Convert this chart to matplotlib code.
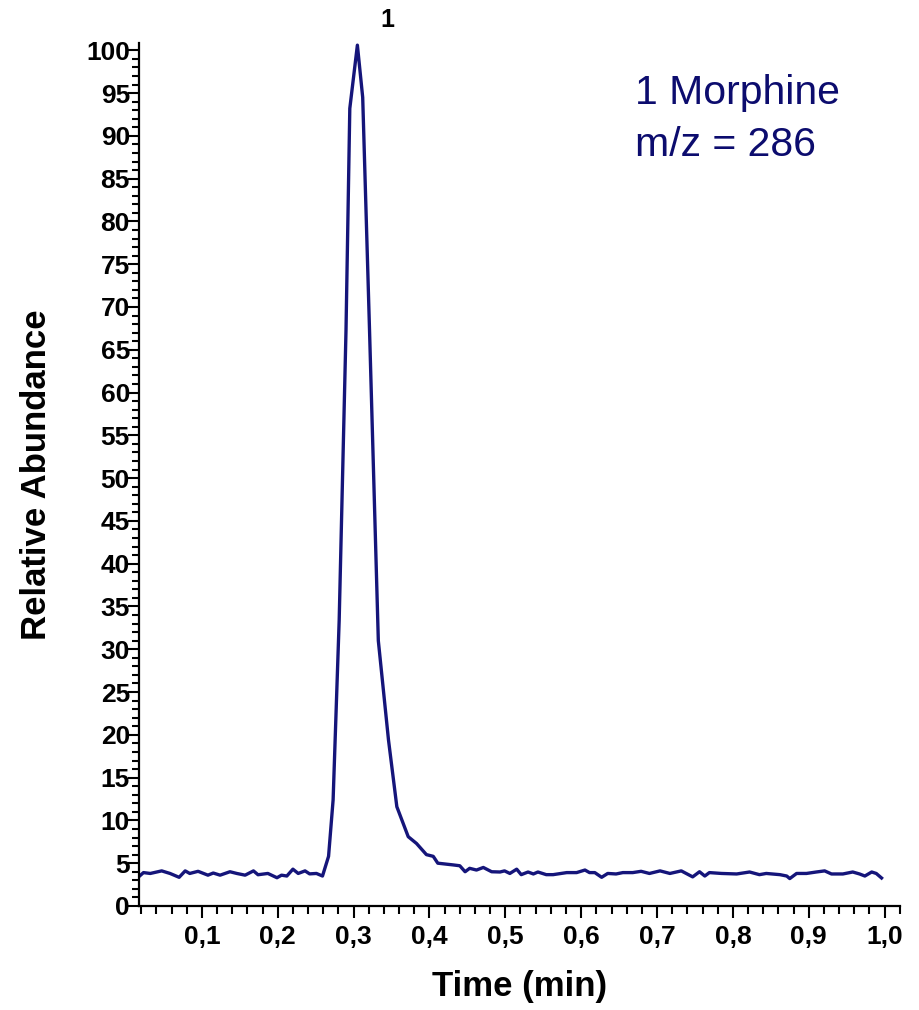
import numpy as np
import matplotlib
matplotlib.use('Agg')
import matplotlib.pyplot as plt
from matplotlib.ticker import MultipleLocator, FuncFormatter

plt.rcParams['font.family'] = ['Liberation Sans', 'DejaVu Sans']

# chromatogram
time = [0.016, 0.023, 0.032, 0.047, 0.058, 0.070, 0.078, 0.084, 0.095, 0.108,
        0.115, 0.124, 0.137, 0.146, 0.157, 0.168, 0.174, 0.187, 0.199, 0.205,
        0.212, 0.220, 0.227, 0.236, 0.242, 0.251, 0.259,
        0.267, 0.273, 0.281, 0.290, 0.295, 0.305, 0.312, 0.321, 0.3326,
        0.346, 0.357, 0.372, 0.383,
        0.387, 0.396, 0.405, 0.411, 0.431, 0.440, 0.447, 0.453, 0.462, 0.471,
        0.482, 0.493, 0.499, 0.506, 0.515, 0.521, 0.530, 0.537, 0.543, 0.554,
        0.563, 0.581, 0.594, 0.605, 0.611, 0.618, 0.627, 0.635, 0.646, 0.655,
        0.668, 0.679, 0.690,
        0.704, 0.717, 0.732, 0.747, 0.756, 0.763, 0.769, 0.785, 0.805, 0.822,
        0.835, 0.844, 0.862, 0.871, 0.875, 0.884, 0.897, 0.910, 0.921, 0.930,
        0.945, 0.958, 0.967, 0.974, 0.983, 0.989, 0.996]
abundance = [3.35, 3.9, 3.8, 4.1, 3.8, 3.35, 4.1, 3.8, 4.05, 3.6,
             3.85, 3.6, 4.0, 3.8, 3.6, 4.1, 3.65, 3.8, 3.3, 3.6,
             3.5, 4.3, 3.8, 4.1, 3.75, 3.8, 3.5,
             5.8, 12.4, 33.4, 67.3, 93.2, 100.6, 94.5, 67.3, 31.0,
             19.4, 11.6, 8.1, 7.3,
             6.9, 6.0, 5.8, 5.0, 4.8, 4.7, 4.0, 4.4, 4.2, 4.5,
             4.0, 3.97, 4.1, 3.8, 4.3, 3.66, 3.97, 3.74, 3.97, 3.66,
             3.66, 3.9, 3.9, 4.2, 3.9, 3.9, 3.35, 3.8, 3.74, 3.9,
             3.9, 4.05, 3.8,
             4.1, 3.8, 4.1, 3.4, 4.0, 3.5, 3.9, 3.8, 3.74, 3.97,
             3.66, 3.8, 3.66, 3.5, 3.2, 3.8, 3.8, 3.97, 4.1, 3.74,
             3.74, 3.97, 3.74, 3.5, 3.97, 3.8, 3.27]

navy = '#15157a'

fig = plt.figure(figsize=(9.2, 10.1), dpi=100)
ax = fig.add_axes([0.151, 0.103, 0.827, 0.854])
ax.plot(time, abundance, color=navy, lw=2.4)

ax.set_xlim(0.017, 1.02)
ax.set_ylim(0, 100.8)
for s in ['top', 'right']:
    ax.spines[s].set_visible(False)
for s in ['left', 'bottom']:
    ax.spines[s].set_linewidth(1.6)

ax.xaxis.set_major_locator(MultipleLocator(0.1))
ax.xaxis.set_minor_locator(MultipleLocator(0.02))
ax.yaxis.set_major_locator(MultipleLocator(5))
ax.yaxis.set_minor_locator(MultipleLocator(1))
ax.xaxis.set_major_formatter(FuncFormatter(lambda v, p: ('%.1f' % v).replace('.', ',')))
ax.yaxis.set_major_formatter(FuncFormatter(lambda v, p: '%d' % round(v)))

ax.tick_params(axis='x', which='major', length=8.5, width=1.5, pad=5, labelsize=19)
ax.tick_params(axis='x', which='minor', length=6, width=1.5)
ax.tick_params(axis='y', which='major', length=8, width=1.5, pad=-1.5, labelsize=19)
ax.tick_params(axis='y', which='minor', length=5, width=1.5)
for lab in ax.get_xticklabels() + ax.get_yticklabels():
    lab.set_fontweight('bold')

ax.set_xlabel('Time (min)', fontsize=25, fontweight='bold', labelpad=15)
ax.set_ylabel('Relative Abundance', fontsize=25, fontweight='bold', labelpad=24)

ax.text(0.345, 103.5, '1', fontsize=18, fontweight='bold', ha='center', va='center',
        clip_on=False)
fig.text(635/920, 1 - 104/1010, '1 Morphine', fontsize=29.5, color='#0c0c6e', ha='left',
         va='baseline')
fig.text(635/920, 1 - 156/1010, 'm/z = 286', fontsize=29.5, color='#0c0c6e', ha='left',
         va='baseline')

fig.savefig('out.png', dpi=100)
